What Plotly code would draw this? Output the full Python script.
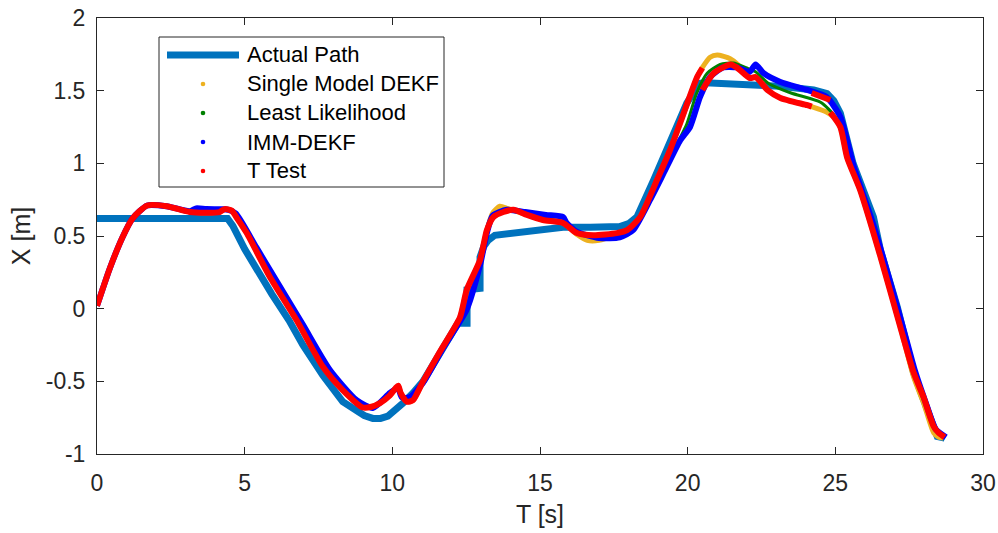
import plotly.graph_objects as go

# ---- data -------------------------------------------------------------
actual_t = [0, 4.42, 4.6, 5.0, 5.92, 6.5, 6.97, 7.65, 8.32, 8.8, 9.05, 9.34, 9.6, 9.85,
            10.1, 10.36, 10.7, 11.04, 11.72, 12.22, 12.53, 12.53, 12.97, 12.97, 13.1,
            13.24, 13.47, 14.0, 14.76, 15.78, 16.7, 17.7, 18.0, 18.28, 18.85, 19.41,
            19.97, 20.3, 20.42, 20.6, 21.1, 22.46, 23.14, 24.27, 24.55, 24.72, 24.95,
            25.17, 25.6, 26.29, 26.53, 27.1, 27.65, 28.22, 28.45, 28.7]
actual_x = [0.62, 0.62, 0.57, 0.41, 0.10, -0.08, -0.25, -0.46, -0.64, -0.71, -0.735,
            -0.755, -0.755, -0.74, -0.70, -0.65, -0.58, -0.50, -0.27, -0.10, -0.10, 0.13,
            0.14, 0.355, 0.43, 0.47, 0.505, 0.52, 0.54, 0.56, 0.56, 0.565, 0.585, 0.63,
            0.885, 1.16, 1.415, 1.52, 1.55, 1.555, 1.55, 1.54, 1.53, 1.505, 1.495, 1.48,
            1.43, 1.344, 1.0, 0.63, 0.40, 0.01, -0.44, -0.745, -0.88, -0.89]

single_t = [0, 0.2, 0.42, 0.86, 1.2, 1.7, 2.36, 3.14, 3.7, 4.15, 4.32, 4.56, 4.75, 5.07,
            5.85, 6.76, 7.65, 8.32, 9.0, 9.3, 9.58, 9.9, 10.2, 10.28, 10.49, 10.7, 11.04,
            11.6, 12.29, 12.52, 12.97, 13.2, 13.4, 13.64, 13.9, 14.2, 14.56, 15.1, 15.78,
            16.25, 16.6, 17.0, 17.6, 17.95, 18.39, 18.96, 19.4, 19.75, 20.32, 20.5, 20.76,
            21.0, 21.44, 21.7, 22.1, 22.3, 22.7, 23.14, 24.05, 24.2, 24.7, 24.93, 25.17,
            25.4, 25.84, 26.53, 27.2, 27.65, 27.99, 28.33, 28.5, 28.65]
single_x = [0.02, 0.14, 0.27, 0.49, 0.62, 0.71, 0.705, 0.665, 0.66, 0.665, 0.685, 0.675,
            0.62, 0.52, 0.22, -0.08, -0.40, -0.56, -0.68, -0.675, -0.65, -0.60, -0.53,
            -0.58, -0.64, -0.63, -0.50, -0.30, -0.06, 0.13, 0.335, 0.54, 0.66, 0.705, 0.69,
            0.67, 0.645, 0.61, 0.59, 0.51, 0.47, 0.47, 0.51, 0.54, 0.63, 0.885, 1.09, 1.28,
            1.594, 1.66, 1.73, 1.745, 1.72, 1.68, 1.587, 1.594, 1.505, 1.45, 1.40, 1.39,
            1.353, 1.32, 1.25, 1.04, 0.816, 0.356, -0.126, -0.47, -0.65, -0.855, -0.885,
            -0.89]

least_t = [0, 0.2, 0.42, 0.86, 1.2, 1.7, 2.36, 3.14, 3.7, 4.15, 4.32, 4.56, 4.75, 5.07,
           5.85, 6.76, 7.65, 8.32, 9.0, 9.3, 9.58, 9.9, 10.2, 10.28, 10.49, 10.7, 11.04,
           11.6, 12.29, 12.52, 12.97, 13.2, 13.42, 13.76, 14.1, 14.56, 15.1, 15.78, 16.25,
           16.8, 17.6, 17.95, 18.39, 18.96, 19.3, 19.97, 20.3, 20.66, 21.1, 21.55, 22.0,
           22.3, 22.74, 23.5, 24.5, 25.0, 25.62, 26.3, 27.3, 27.7, 28.05, 28.4, 28.72]
least_x = [0.02, 0.14, 0.27, 0.49, 0.62, 0.71, 0.705, 0.665, 0.66, 0.665, 0.685, 0.675,
           0.62, 0.52, 0.22, -0.08, -0.40, -0.56, -0.68, -0.675, -0.65, -0.60, -0.53, -0.58,
           -0.64, -0.63, -0.50, -0.30, -0.06, 0.13, 0.335, 0.54, 0.63, 0.665, 0.68, 0.65,
           0.62, 0.60, 0.52, 0.50, 0.51, 0.54, 0.63, 0.87, 1.0, 1.27, 1.48, 1.62, 1.68,
           1.69, 1.656, 1.63, 1.55, 1.484, 1.42, 1.32, 0.97, 0.56, -0.14, -0.43, -0.65,
           -0.84, -0.885]

imm_t = [0, 0.2, 0.42, 0.86, 1.2, 1.7, 2.36, 3.14, 3.36, 3.7, 4.27, 4.45, 4.7, 5.4, 6.08,
         6.97, 7.88, 8.79, 9.34, 9.92, 10.19, 10.32, 10.59, 11.04, 11.72, 12.51, 12.97,
         13.2, 13.4, 13.88, 14.5, 15.2, 15.78, 15.9, 16.24, 17.0, 17.7, 18.15, 18.73,
         19.18, 19.75, 20.08, 20.42, 20.76, 21.2, 21.66, 22.1, 22.3, 22.57, 23.14, 24.05,
         24.7, 25.17, 25.62, 26.3, 27.32, 27.7, 28.05, 28.4, 28.75]
imm_x = [0.02, 0.14, 0.27, 0.49, 0.62, 0.71, 0.705, 0.67, 0.69, 0.685, 0.684, 0.68, 0.655,
         0.42, 0.19, -0.11, -0.42, -0.63, -0.683, -0.58, -0.545, -0.61, -0.61, -0.51,
         -0.27, -0.01, 0.30, 0.52, 0.64, 0.68, 0.665, 0.645, 0.63, 0.59, 0.53, 0.486, 0.49,
         0.54, 0.75, 0.93, 1.16, 1.25, 1.457, 1.594, 1.66, 1.66, 1.63, 1.68, 1.62, 1.56,
         1.505, 1.457, 1.32, 0.98, 0.57, -0.15, -0.43, -0.64, -0.83, -0.885]

# T Test switches between estimators, so its track has breaks (None)
ttest_t = [0, 0.2, 0.42, 0.86, 1.2, 1.7, 2.36, 3.14, 3.7, 4.15, 4.32, 4.56, 4.75, 5.07,
           5.85, 6.76, 7.65, 8.32, 9.0, 9.3, 9.58, 9.9, 10.2, 10.28, 10.49, 10.7, 11.04,
           11.6, 12.29, 12.52, 12.97, 13.2, 13.42, 13.76, 14.1, 14.56, 15.1, 15.78, 16.25,
           16.8, 17.6, 17.95, 18.39, 18.96, 19.4, 19.75, 20.32, 20.5, None, 20.5, 20.88,
           21.44, 21.66, 22.1, 22.3, 22.7, 23.14, 24.05, 24.2, None, 24.2, 24.83, None,
           24.83, 25.17, 25.4, 25.84, 26.53, 27.2, 27.65, 27.99, 28.33, 28.5, 28.7]
ttest_x = [0.02, 0.14, 0.27, 0.49, 0.62, 0.71, 0.705, 0.665, 0.66, 0.665, 0.685, 0.675,
           0.62, 0.52, 0.22, -0.08, -0.40, -0.56, -0.68, -0.675, -0.65, -0.60, -0.53, -0.58,
           -0.64, -0.63, -0.50, -0.30, -0.06, 0.13, 0.335, 0.54, 0.63, 0.665, 0.68, 0.645,
           0.61, 0.59, 0.52, 0.505, 0.52, 0.54, 0.63, 0.885, 1.09, 1.28, 1.594, 1.656, None,
           1.505, 1.62, 1.68, 1.66, 1.587, 1.594, 1.505, 1.45, 1.40, 1.39, None, 1.484,
           1.436, None, 1.35, 1.25, 1.04, 0.816, 0.356, -0.126, -0.44, -0.61, -0.81, -0.855,
           -0.885]

x_ticks = [0, 5, 10, 15, 20, 25, 30]
y_ticks = [-1, -0.5, 0, 0.5, 1, 1.5, 2]
y_tick_text = ["-1", "-0.5", "0", "0.5", "1", "1.5", "2"]

names = ["Actual Path", "Single Model DEKF", "Least Likelihood", "IMM-DEKF", "T Test"]
colors = ["#0072BD", "#EDB120", "#008000", "#0000FF", "#FF0000"]
widths = [7, 5, 3, 6, 6]
shapes_kind = ["linear", "spline", "spline", "spline", "spline"]
series = [(actual_t, actual_x), (single_t, single_x), (least_t, least_x),
          (imm_t, imm_x), (ttest_t, ttest_x)]

# ---- figure -----------------------------------------------------------
W, H = 998, 533
ML, MR, MT, MB = 97, 15, 18, 79
FONT = "Liberation Sans, Arial, Helvetica, sans-serif"
AX = "#262626"

fig = go.Figure()
for (t, v), name, c, w, k in zip(series, names, colors, widths, shapes_kind):
    fig.add_trace(go.Scatter(x=t, y=v, name=name, mode="lines",
                             line=dict(color=c, width=w, shape=k, smoothing=0.6),
                             showlegend=False, connectgaps=False, hoverinfo="skip"))

axis_common = dict(showgrid=False, zeroline=False, showline=True, linecolor=AX,
                   linewidth=1, mirror="ticks", ticks="inside", ticklen=7,
                   tickcolor=AX, tickwidth=1, automargin=False,
                   tickfont=dict(family=FONT, size=23, color=AX))

fig.update_xaxes(range=[0, 30], tickvals=x_ticks, ticklabelstandoff=8,
                 title=dict(text="T [s]", font=dict(family=FONT, size=25, color=AX),
                            standoff=10),
                 **axis_common)
fig.update_yaxes(range=[-1, 2], tickvals=y_ticks, ticktext=y_tick_text,
                 ticklabelstandoff=6,
                 title=dict(text="X [m]", font=dict(family=FONT, size=25, color=AX),
                            standoff=8),
                 **axis_common)

# ---- legend box drawn in pixel space ------------------------------------
pw, ph = W - ML - MR, H - MT - MB


def px(xp):
    return (xp - ML) / pw


def py(yp):
    return (H - MB - yp) / ph


shapes = [dict(type="rect", xref="paper", yref="paper", x0=px(159), x1=px(444),
               y0=py(187), y1=py(37), line=dict(color=AX, width=1),
               fillcolor="white", layer="above")]
annotations = []
row_y = [55, 84, 113, 142, 171]
for i, (name, c) in enumerate(zip(names, colors)):
    yy = row_y[i]
    if i == 0:
        shapes.append(dict(type="line", xref="paper", yref="paper", x0=px(167),
                           x1=px(239), y0=py(yy), y1=py(yy),
                           line=dict(color=c, width=7), layer="above"))
    else:
        r = 2.3
        shapes.append(dict(type="circle", xref="paper", yref="paper",
                           x0=px(203 - r), x1=px(203 + r), y0=py(yy + r), y1=py(yy - r),
                           fillcolor=c, line=dict(color=c, width=0), layer="above"))
    annotations.append(dict(text=name, xref="paper", yref="paper", x=px(245), y=py(yy),
                            xanchor="left", yanchor="middle", showarrow=False,
                            font=dict(family=FONT, size=22, color="#000000")))

fig.update_layout(width=W, height=H, margin=dict(l=ML, r=MR, t=MT, b=MB),
                  paper_bgcolor="white", plot_bgcolor="white",
                  shapes=shapes, annotations=annotations, showlegend=False)

fig.write_html("out.html")
